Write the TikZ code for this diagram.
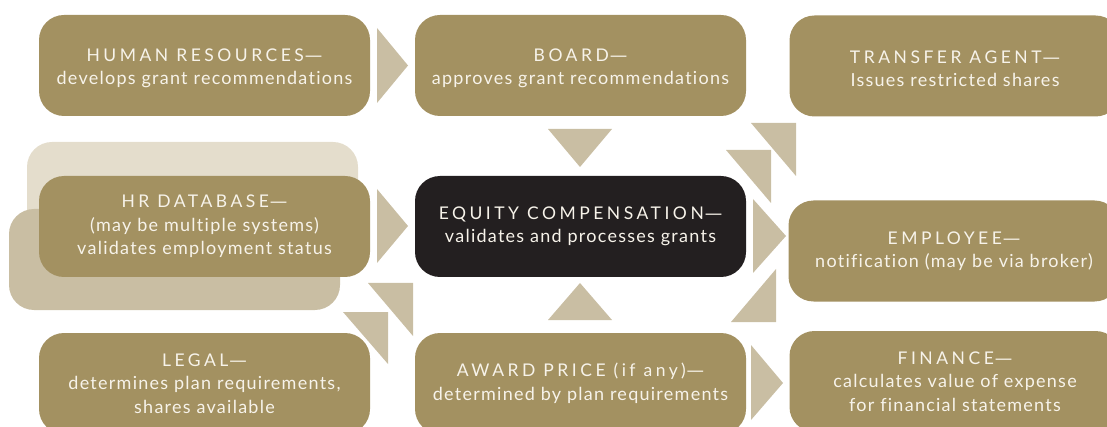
\documentclass[tikz,border=0pt]{standalone}
\usepackage{fontspec}
\setmainfont{Lato}[LetterSpace=7,Ligatures={NoCommon}]
\newfontfamily\capsf{Lato}[LetterSpace=20,Ligatures={NoCommon}]
\newfontfamily\dashf{DejaVu Sans}
\usetikzlibrary{calc}
\definecolor{boxtan}{HTML}{A39161}
\definecolor{arrowtan}{HTML}{C9BEA3}
\definecolor{palebox}{HTML}{E4DDCC}
\definecolor{darkbox}{HTML}{231F20}
\definecolor{boxtext}{HTML}{F7F3EA}
\tikzset{
  card/.style={rounded corners=25pt, minimum width=331pt, minimum height=101pt,
    inner sep=0pt, fill=boxtan},
  blackcard/.style={card, fill=darkbox},
  cardtext/.style={inner sep=0pt, text=boxtext, align=center, font=\fontsize{18}{23.5}\selectfont},
  ghost/.style={rounded corners=25pt, minimum width=331pt, minimum height=101pt, inner sep=0pt},
  tri/.style={fill=arrowtan, draw=none},
}
\newcommand{\hd}[1]{{\capsf\fontsize{17.5}{23.5}\selectfont #1{\dashf\kern1pt—}}}
\begin{document}
\begin{tikzpicture}[x=1pt,y=-1pt]
\useasboundingbox (0,0) rectangle (1107,427);
\clip (0,0) rectangle (1107,427);
% background ghost boxes
\node[ghost, fill=palebox] (gb1) at (192.5,192.5) {};
\node[ghost, fill=arrowtan] (gb2) at (174.5,259.5) {};
% cards
\node[card] (hr) at (204.5,65.5) {};
\node[card] (board) at (580.5,65.5) {};
\node[card] (ta) at (955,66) {};
\node[card] (hrdb) at (204.5,226.5) {};
\node[blackcard] (eq) at (580.5,226.5) {};
\node[card] (emp) at (954,251) {};
\node[card] (legal) at (204.5,383.5) {};
\node[card] (award) at (580.5,383.5) {};
\node[card] (fin) at (955,381.5) {};
% texts
\node[cardtext] (hr-t) at ($(hr.center)+(0,3)$) {\hd{HUMAN RESOURCES}\\develops grant recommendations};
\node[cardtext] (board-t) at ($(board.center)+(0,3)$) {\hd{BOARD}\\approves grant recommendations};
\node[cardtext] (ta-t) at ($(ta.center)+(0,2.5)$) {\hd{TRANSFER AGENT}\\Issues restricted shares};
\node[cardtext] (hrdb-t) at (hrdb.center) {\hd{HR DATABASE}\\(may be multiple systems)\\validates employment status};
\node[cardtext] (eq-t) at (eq.center) {\hd{EQUITY COMPENSATION}\\validates and processes grants};
\node[cardtext] (emp-t) at (emp.center) {\hd{EMPLOYEE}\\notification (may be via broker)};
\node[cardtext] (legal-t) at (legal.center) {\hd{LEGAL}\\determines plan requirements,\\shares available};
\node[cardtext] (award-t) at (award.center) {\hd{AWARD PRICE (if any)}\\determined by plan requirements};
\node[cardtext] (fin-t) at (fin.center) {\hd{FINANCE}\\calculates value of expense\\for financial statements};
% arrow triangles
\fill[tri] (377,28) -- (377,103) -- (408,65.5) -- cycle;
\fill[tri] (377,189) -- (377,263) -- (408,226) -- cycle;
\fill[tri] (548,129) -- (612,129) -- (580,167) -- cycle;
\fill[tri] (548,320) -- (612,320) -- (580,283) -- cycle;
\fill[tri] (753,199) -- (753,273) -- (786,236) -- cycle;
\fill[tri] (751,123) -- (796,123) -- (796,176) -- cycle;
\fill[tri] (726,150) -- (771,150) -- (771,203) -- cycle;
\fill[tri] (731,322) -- (776,322) -- (776,269) -- cycle;
\fill[tri] (751,345) -- (751,420) -- (783,383) -- cycle;
\fill[tri] (368,283) -- (413,283) -- (413,336) -- cycle;
\fill[tri] (343,312) -- (388,312) -- (388,364) -- cycle;
\end{tikzpicture}
\end{document}
